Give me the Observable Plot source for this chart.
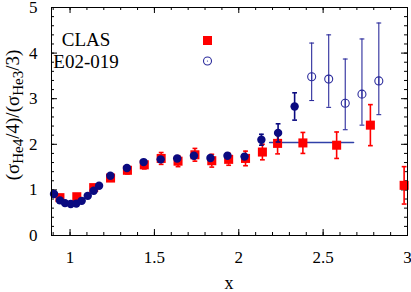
<!DOCTYPE html>
<html>
<head>
<meta charset="utf-8">
<script src="https://cdn.jsdelivr.net/npm/d3@7"></script>
<script src="https://cdn.jsdelivr.net/npm/@observablehq/plot@0.6"></script>
<style>
  html, body { margin: 0; padding: 0; background: #fff; }
  #chart svg { display: block; }
  #chart svg, #chart svg text, #chart svg tspan { font-family: 'Liberation Serif', 'Times New Roman', 'DejaVu Serif', serif !important; }
</style>
</head>
<body>
<div id="chart"></div>
<script>
// ---- data ----
const xTicks = [1, 1.5, 2, 2.5, 3];
const yTicks = [0, 1, 2, 3, 4, 5];

// CLAS (red squares)
const clasX   = [0.94, 1.04, 1.14, 1.24, 1.34, 1.44, 1.54, 1.64, 1.74, 1.84, 1.94, 2.04, 2.14, 2.23, 2.38, 2.58, 2.78, 2.98];
const clasY   = [0.83, 0.85, 1.05, 1.26, 1.43, 1.55, 1.69, 1.63, 1.77, 1.64, 1.67, 1.69, 1.83, 2.02, 2.03, 1.98, 2.42, 1.10];
const clasErr = [0.05, 0.05, 0.06, 0.07, 0.08, 0.09, 0.13, 0.12, 0.14, 0.14, 0.13, 0.16, 0.17, 0.23, 0.23, 0.29, 0.45, 0.41];

// filled navy circles
const navyX   = [0.905, 0.94, 0.97, 1.004, 1.037, 1.069, 1.105, 1.14, 1.172, 1.239, 1.337, 1.436, 1.537, 1.635, 1.734, 1.832, 1.933, 2.034, 2.134, 2.233, 2.331];
const navyY   = [0.91, 0.77, 0.71, 0.69, 0.70, 0.76, 0.87, 0.98, 1.09, 1.31, 1.48, 1.61, 1.67, 1.69, 1.75, 1.70, 1.75, 1.73, 2.10, 2.25, 2.83];
const navyErr = [0.02, 0.02, 0.02, 0.02, 0.02, 0.02, 0.02, 0.02, 0.02, 0.03, 0.03, 0.03, 0.04, 0.04, 0.04, 0.04, 0.05, 0.05, 0.12, 0.20, 0.30];

// E02-019 (open circles, asymmetric errors)
const e02X  = [2.432, 2.533, 2.631, 2.73, 2.83];
const e02Y  = [3.48, 3.43, 2.90, 3.10, 3.39];
const e02Lo = [2.96, 2.81, 2.32, 2.42, 2.65];
const e02Hi = [4.22, 4.40, 3.87, 4.31, 4.66];

// plateau line
const plateauX = [2.183, 2.68];
const plateauY = [2.04, 2.04];

// ---- tables ----
const clas = clasX.map((x, i) => ({x, y: clasY[i], lo: clasY[i] - clasErr[i], hi: clasY[i] + clasErr[i]}));
const navy = navyX.map((x, i) => ({x, y: navyY[i], lo: navyY[i] - navyErr[i], hi: navyY[i] + navyErr[i]}));
const e02 = e02X.map((x, i) => ({x, y: e02Y[i], lo: e02Lo[i], hi: e02Hi[i]}));
const plateau = plateauX.map((x, i) => ({x, y: plateauY[i]}));

const xMinor = d3.range(9, 31).map(d => d / 10);
const yMinor = d3.range(0, 26).map(d => d / 5);
const xMajor = xTicks;
const yMajor = yTicks;

const W = 411, H = 292, mL = 51, mR = 4, mT = 7, mB = 57;
const innerH = H - mT - mB, innerW = W - mL - mR;
const majLen = 6, minLen = 3;

const capSymbol = {
  draw(ctx, size) {
    const r = Math.sqrt(size / Math.PI);
    ctx.moveTo(-r, 0);
    ctx.lineTo(r, 0);
  }
};

const RED = "#ff0000", NAVY = "#0a0a80", BLUE = "#2c2c9c";
const FONT = "'Liberation Serif', 'Times New Roman', serif";

const chart = Plot.plot({
  width: W, height: H,
  marginLeft: mL, marginRight: mR, marginTop: mT, marginBottom: mB,
  style: {fontFamily: FONT, fontSize: "17px", color: "#000", background: "#fff", overflow: "visible"},
  x: {domain: [0.89, 3.0]},
  y: {domain: [0, 5]},
  marks: [
    // inward ticks: bottom / top
    Plot.tickX(xMinor, {x: d => d, insetTop: innerH - minLen, stroke: "#000"}),
    Plot.tickX(xMinor, {x: d => d, insetBottom: innerH - minLen, stroke: "#000"}),
    Plot.tickX(xMajor, {x: d => d, insetTop: innerH - majLen, stroke: "#000"}),
    Plot.tickX(xMajor, {x: d => d, insetBottom: innerH - majLen, stroke: "#000"}),
    // inward ticks: left / right
    Plot.tickY(yMinor, {y: d => d, insetRight: innerW - minLen, stroke: "#000"}),
    Plot.tickY(yMinor, {y: d => d, insetLeft: innerW - minLen, stroke: "#000"}),
    Plot.tickY(yMajor, {y: d => d, insetRight: innerW - majLen, stroke: "#000"}),
    Plot.tickY(yMajor, {y: d => d, insetLeft: innerW - majLen, stroke: "#000"}),
    Plot.axisX({ticks: xTicks, tickSize: 0, tickPadding: 15, tickFormat: d => String(d), label: null, fontSize: 17}),
    Plot.axisY({ticks: yTicks, tickSize: 0, tickPadding: 14, tickFormat: d => String(d), label: null, fontSize: 17}),

    // plateau line
    Plot.line(plateau, {x: "x", y: "y", stroke: "#3040a8", strokeWidth: 1.6}),

    // CLAS red
    Plot.ruleX(clas, {x: "x", y1: "lo", y2: "hi", stroke: RED, strokeWidth: 1.6}),
    Plot.dot(clas, {x: "x", y: "lo", symbol: capSymbol, r: 2.4, stroke: RED, strokeWidth: 1.6}),
    Plot.dot(clas, {x: "x", y: "hi", symbol: capSymbol, r: 2.4, stroke: RED, strokeWidth: 1.6}),
    Plot.dot(clas, {x: "x", y: "y", symbol: "square", r: 5.1, fill: RED}),

    // navy filled
    Plot.ruleX(navy, {x: "x", y1: "lo", y2: "hi", stroke: NAVY, strokeWidth: 1.6}),
    Plot.dot(navy, {x: "x", y: "lo", symbol: capSymbol, r: 2.4, stroke: NAVY, strokeWidth: 1.6}),
    Plot.dot(navy, {x: "x", y: "hi", symbol: capSymbol, r: 2.4, stroke: NAVY, strokeWidth: 1.6}),
    Plot.dot(navy, {x: "x", y: "y", r: 4.2, fill: NAVY}),

    // E02-019 open
    Plot.ruleX(e02, {x: "x", y1: "lo", y2: "y", stroke: BLUE, strokeWidth: 1.1, insetBottom: 4}),
    Plot.ruleX(e02, {x: "x", y1: "y", y2: "hi", stroke: BLUE, strokeWidth: 1.1, insetTop: 4}),
    Plot.dot(e02, {x: "x", y: "lo", symbol: capSymbol, r: 2.4, stroke: BLUE, strokeWidth: 1.1}),
    Plot.dot(e02, {x: "x", y: "hi", symbol: capSymbol, r: 2.4, stroke: BLUE, strokeWidth: 1.1}),
    Plot.dot(e02, {x: "x", y: "y", r: 4, stroke: BLUE, strokeWidth: 1.1, fill: "none"}),

    Plot.frame({stroke: "#000", strokeWidth: 1})
  ]
});

const svg = d3.select(chart);

// y-axis label with subscripts
const yl = svg.append("text")
  .attr("transform", `translate(19,${mT + innerH / 2 - 6}) rotate(-90)`)
  .attr("text-anchor", "middle")
  .style("font-family", FONT)
  .style("font-size", "19px")
  .attr("fill", "#000");
yl.append("tspan").text("(σ");
yl.append("tspan").style("font-size", "15px").attr("dy", 4).text("He4");
yl.append("tspan").attr("dy", -4).text("/4)/(σ");
yl.append("tspan").style("font-size", "15px").attr("dy", 4).text("He3");
yl.append("tspan").attr("dy", -4).text("/3)");

// x-axis label
svg.append("text")
  .attr("x", 229)
  .attr("y", 289)
  .attr("text-anchor", "middle")
  .style("font-family", FONT)
  .style("font-size", "18px")
  .attr("fill", "#000")
  .text("x");

// legend
const lg = svg.append("g").style("font-family", FONT).style("font-size", "19px").attr("fill", "#000");
lg.append("text").attr("x", 86).attr("y", 46).text("CLAS");
lg.append("text").attr("x", 86).attr("y", 68).text("E02-019");
lg.append("rect").attr("x", 203).attr("y", 36).attr("width", 9).attr("height", 9).attr("fill", RED);
lg.append("circle").attr("cx", 207.5).attr("cy", 61).attr("r", 4).attr("fill", "none").attr("stroke", BLUE).attr("stroke-width", 1.1);
lg.append("circle").attr("cx", 207.5).attr("cy", 61).attr("r", 0.6).attr("fill", BLUE);

document.getElementById("chart").appendChild(chart);
</script>
</body>
</html>
